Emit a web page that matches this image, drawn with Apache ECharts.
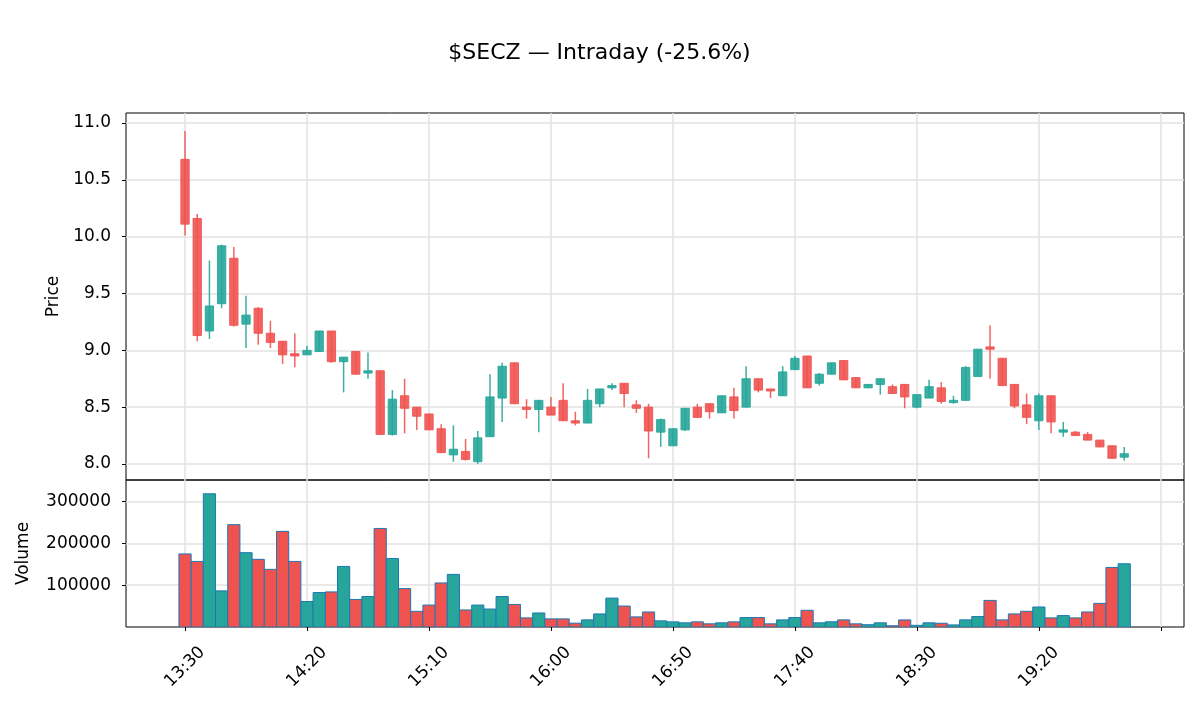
<!DOCTYPE html>
<html>
<head>
<meta charset="utf-8">
<script src="https://cdn.jsdelivr.net/npm/echarts@6/dist/echarts.min.js"></script>
<style>
  html, body { margin: 0; padding: 0; background: #fff; }
  #chart { width: 1199px; height: 707px; }
</style>
</head>
<body>
<div id="chart"></div>
<script>
// 5 分钟 K 线数据（从图上读出来的估计值）
const times = [
  "13:30","13:35","13:40","13:45","13:50","13:55","14:00","14:05","14:10","14:15",
  "14:20","14:25","14:30","14:35","14:40","14:45","14:50","14:55","15:00","15:05",
  "15:10","15:15","15:20","15:25","15:30","15:35","15:40","15:45","15:50","15:55",
  "16:00","16:05","16:10","16:15","16:20","16:25","16:30","16:35","16:40","16:45",
  "16:50","16:55","17:00","17:05","17:10","17:15","17:20","17:25","17:30","17:35",
  "17:40","17:45","17:50","17:55","18:00","18:05","18:10","18:15","18:20","18:25",
  "18:30","18:35","18:40","18:45","18:50","18:55","19:00","19:05","19:10","19:15",
  "19:20","19:25","19:30","19:35","19:40","19:45","19:50","19:55"
];
const opens = [
  10.68,10.16,9.17,9.41,9.81,9.23,9.37,9.15,9.08,8.97,
  8.96,8.99,9.17,8.90,8.99,8.80,8.82,8.26,8.60,8.50,
  8.44,8.31,8.08,8.11,8.02,8.24,8.58,8.89,8.50,8.48,
  8.50,8.56,8.38,8.36,8.53,8.67,8.71,8.52,8.50,8.28,
  8.16,8.30,8.50,8.53,8.45,8.59,8.50,8.75,8.66,8.60,
  8.83,8.95,8.71,8.79,8.91,8.76,8.67,8.70,8.68,8.70,
  8.50,8.58,8.67,8.54,8.56,8.77,9.03,8.93,8.70,8.52,
  8.38,8.60,8.28,8.28,8.26,8.21,8.16,8.06
];
const closes = [
  10.11,9.13,9.39,9.92,9.22,9.31,9.15,9.07,8.96,8.95,
  9.00,9.17,8.90,8.94,8.79,8.82,8.26,8.57,8.49,8.42,
  8.30,8.10,8.13,8.04,8.23,8.59,8.86,8.53,8.48,8.56,
  8.43,8.38,8.36,8.56,8.66,8.69,8.62,8.49,8.29,8.39,
  8.31,8.49,8.41,8.46,8.60,8.47,8.75,8.65,8.65,8.81,
  8.93,8.67,8.79,8.89,8.74,8.67,8.70,8.75,8.62,8.59,
  8.61,8.68,8.55,8.56,8.85,9.01,9.01,8.69,8.51,8.41,
  8.60,8.37,8.30,8.25,8.21,8.15,8.05,8.09
];
const lows = [
  10.01,9.08,9.10,9.37,9.21,9.02,9.05,9.02,8.88,8.85,
  8.96,8.99,8.89,8.63,8.79,8.75,8.26,8.25,8.27,8.30,
  8.30,8.10,8.02,8.03,8.00,8.24,8.37,8.53,8.40,8.28,
  8.43,8.38,8.34,8.36,8.50,8.65,8.50,8.45,8.05,8.15,
  8.16,8.29,8.41,8.40,8.45,8.40,8.50,8.63,8.58,8.60,
  8.83,8.67,8.69,8.79,8.74,8.67,8.67,8.61,8.62,8.49,
  8.49,8.58,8.53,8.53,8.56,8.77,8.75,8.69,8.49,8.35,
  8.30,8.27,8.24,8.25,8.21,8.15,8.05,8.03
];
const highs = [
  10.93,10.20,9.79,9.93,9.91,9.48,9.38,9.26,9.08,9.15,
  9.04,9.17,9.17,8.94,8.99,8.98,8.82,8.65,8.75,8.50,
  8.44,8.35,8.34,8.22,8.29,8.79,8.89,8.89,8.57,8.56,
  8.59,8.71,8.46,8.66,8.66,8.71,8.71,8.56,8.53,8.40,
  8.31,8.49,8.53,8.53,8.60,8.67,8.86,8.75,8.66,8.86,
  8.95,8.95,8.80,8.89,8.91,8.76,8.70,8.75,8.70,8.70,
  8.61,8.74,8.72,8.60,8.86,9.01,9.22,8.93,8.70,8.62,
  8.62,8.60,8.37,8.29,8.28,8.21,8.16,8.15
];
const volumes = [
  175000,157000,319000,86500,245000,178000,162000,138000,229000,157000,
  61000,82500,84000,145000,66000,73000,236000,164000,92000,37500,
  52500,105500,126000,40800,52500,43000,73000,54000,21800,33600,
  19400,19400,9200,17000,31300,69200,50200,24200,36000,14700,
  12300,10000,12300,7600,10000,12300,22600,22600,7600,17000,
  22600,40000,10000,12500,17000,7600,5500,10000,3000,17000,
  4000,10000,9000,5000,17000,25000,63700,17000,31300,37600,
  47900,21800,27300,21800,36000,56600,142600,151400
];
const priceTicks = [8.0, 8.5, 9.0, 9.5, 10.0, 10.5, 11.0];
const volumeTicks = [100000, 200000, 300000];
const xTicks = [0, 10, 20, 30, 40, 50, 60, 70, 80];

const UP = "#26a69a";
const DOWN = "#ef5350";
const FONT = "DejaVu Sans";

const candleData = times.map((t, i) => [i, opens[i], closes[i], lows[i], highs[i]]);
const volumeData = times.map((t, i) => [i, volumes[i], closes[i] >= opens[i] ? 1 : 0]);

function renderCandle(params, api) {
  const x = api.value(0);
  const o = api.value(1), c = api.value(2), l = api.value(3), h = api.value(4);
  const pO = api.coord([x, o]);
  const pC = api.coord([x, c]);
  const pL = api.coord([x, l]);
  const pH = api.coord([x, h]);
  const w = api.size([0.68, 0])[0];
  const color = c >= o ? UP : DOWN;
  const top = Math.min(pO[1], pC[1]);
  const hgt = Math.max(Math.abs(pO[1] - pC[1]), 2);
  return {
    type: "group",
    children: [
      { type: "line", shape: { x1: pH[0], y1: pH[1], x2: pL[0], y2: pL[1] },
        style: { stroke: color, lineWidth: 1.5, opacity: 0.9 } },
      { type: "rect", shape: { x: pO[0] - w / 2, y: top, width: w, height: hgt },
        style: { fill: color, stroke: color, lineWidth: 1, opacity: 0.9 } }
    ]
  };
}

function renderVolume(params, api) {
  const x = api.value(0), v = api.value(1);
  const pTop = api.coord([x, v]);
  const pBot = api.coord([x, 0]);
  const w = api.size([1, 0])[0];
  return {
    type: "rect",
    shape: { x: pTop[0] - w / 2, y: pTop[1], width: w, height: pBot[1] - pTop[1] },
    style: { fill: api.value(2) ? UP : DOWN, stroke: "#1f77b4", lineWidth: 1 }
  };
}

const splitLine = { show: true, lineStyle: { color: "#e2e2e2", width: 1.5 } };
const tickStyle = { show: true, length: 4, lineStyle: { color: "#000", width: 1 } };
const labelStyle = { color: "#000", fontSize: 17, fontFamily: FONT };
const nameStyle = { color: "#000", fontSize: 17, fontFamily: FONT };

const chart = echarts.init(document.getElementById("chart"), null, { renderer: "canvas" });
chart.setOption({
  animation: false,
  backgroundColor: "#fff",
  title: {
    text: "$SECZ \u2014 Intraday (-25.6%)",
    left: "center",
    top: 37,
    textStyle: { fontSize: 22, fontWeight: "normal", color: "#000", fontFamily: FONT }
  },
  grid: [
    { left: 126, right: 15, top: 113, height: 367, show: true, borderColor: "#000", borderWidth: 1 },
    { left: 126, right: 15, top: 480, height: 147, show: true, borderColor: "#000", borderWidth: 1 }
  ],
  xAxis: [
    {
      type: "value", gridIndex: 0, min: -4.84, max: 81.9,
      axisLine: { show: false, onZero: false },
      axisTick: { show: false, customValues: xTicks },
      axisLabel: { show: false, customValues: xTicks },
      splitLine: splitLine
    },
    {
      type: "value", gridIndex: 1, min: -4.84, max: 81.9,
      axisLine: { show: false, onZero: false },
      axisTick: Object.assign({ customValues: xTicks }, tickStyle),
      axisLabel: Object.assign({
        customValues: xTicks,
        rotate: 45,
        align: "center",
        verticalAlign: "middle",
        margin: 40,
        formatter: v => times[v] || ""
      }, labelStyle),
      splitLine: splitLine
    }
  ],
  yAxis: [
    {
      type: "value", gridIndex: 0, min: 7.859, max: 11.088,
      name: "Price", nameLocation: "middle", nameGap: 62,
      nameTextStyle: nameStyle,
      axisLine: { show: false, onZero: false },
      axisTick: Object.assign({ customValues: priceTicks }, tickStyle),
      axisLabel: Object.assign({ customValues: priceTicks, margin: 15, formatter: v => v.toFixed(1) }, labelStyle),
      splitLine: splitLine
    },
    {
      type: "value", gridIndex: 1, min: 0, max: 352000,
      name: "Volume", nameLocation: "middle", nameGap: 94,
      nameTextStyle: nameStyle,
      axisLine: { show: false, onZero: false },
      axisTick: Object.assign({ customValues: volumeTicks }, tickStyle),
      axisLabel: Object.assign({ customValues: volumeTicks, margin: 15, formatter: v => String(v) }, labelStyle),
      splitLine: splitLine
    }
  ],
  series: [
    {
      type: "custom", name: "Volume", xAxisIndex: 1, yAxisIndex: 1,
      renderItem: renderVolume, data: volumeData, clip: true,
      encode: { x: 0, y: 1 }
    },
    {
      type: "custom", name: "Price", xAxisIndex: 0, yAxisIndex: 0,
      renderItem: renderCandle, data: candleData, clip: true,
      encode: { x: 0, y: [1, 2, 3, 4] }
    }
  ]
});
</script>
</body>
</html>
